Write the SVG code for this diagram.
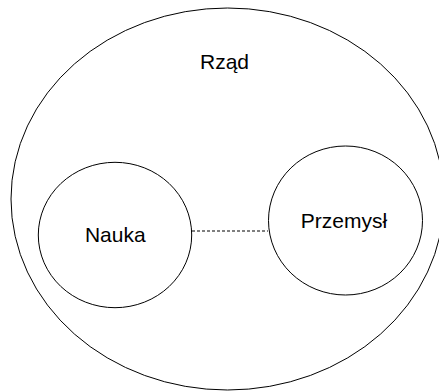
<svg xmlns="http://www.w3.org/2000/svg" width="439" height="392" viewBox="0 0 439 392">
<style>
.shape{fill:none;stroke:#000;stroke-width:1}
.lbl{font-family:"Liberation Sans",Arial,sans-serif;font-size:21px;fill:#000;text-anchor:middle}
.conn{stroke:#000;stroke-width:1.2;stroke-dasharray:3 2;fill:none}
</style>
<rect width="439" height="392" fill="#fff"/>
<g id="rzad">
<ellipse class="shape" cx="227.5" cy="199" rx="216.5" ry="191"/>
<text class="lbl" x="224.5" y="69">Rząd</text>
</g>
<g id="connectors">
<line class="conn" x1="192" y1="231" x2="268" y2="231"/>
</g>
<g id="nauka">
<ellipse class="shape" cx="115" cy="235" rx="76.7" ry="72.7"/>
<text class="lbl" x="115.3" y="241.5">Nauka</text>
</g>
<g id="przemysl">
<ellipse class="shape" cx="345.5" cy="220.5" rx="77" ry="74.5"/>
<text class="lbl" x="344" y="228.3">Przemysł</text>
</g>
</svg>
